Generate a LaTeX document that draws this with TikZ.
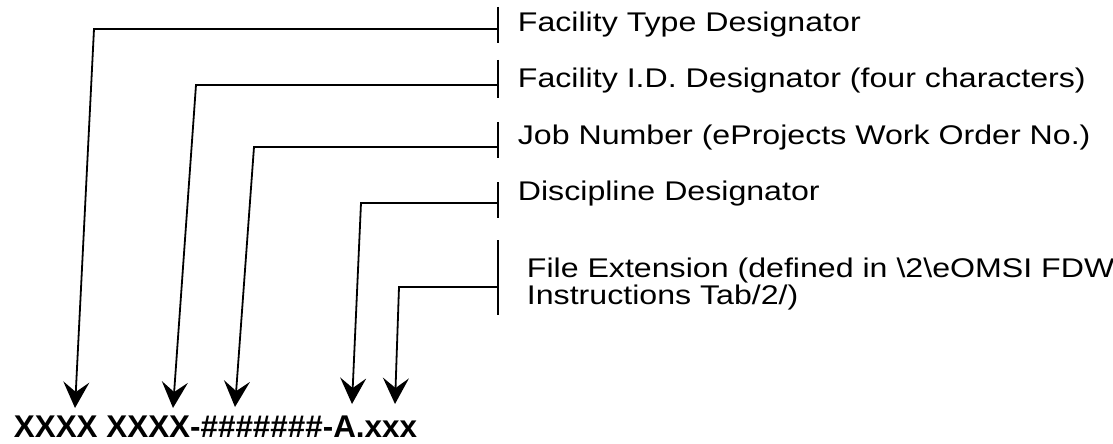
\documentclass[tikz,border=0pt]{standalone}
\usepackage{fontspec}
\setmainfont{Liberation Sans}
\newfontfamily\labelfont[FakeStretch=1.19]{Liberation Sans}
\usetikzlibrary{arrows.meta}

\begin{document}
\begin{tikzpicture}[x=0.5pt, y=-0.5pt, line width=0.9pt,
    lbl/.style={anchor=base west, inner sep=0pt, align=left,
        font=\labelfont\fontsize{13.5}{13.5}\selectfont},
    codetxt/.style={anchor=base west, inner sep=0pt,
        font=\bfseries\fontsize{15.7}{18}\selectfont},
    arr/.style={-{Stealth[length=13pt, width=13pt, inset=5pt]}}]
    \useasboundingbox (0,0) rectangle (1113,444);

    % Labels
    \node[lbl] (typelbl) at (517,32) {Facility Type Designator};
    \node[lbl] (idlbl) at (517,88) {Facility I.D. Designator (four characters)};
    \node[lbl] (joblbl) at (517,144) {Job Number (eProjects Work Order No.)};
    \node[lbl] (disclbl) at (517,200) {Discipline Designator};
    % two lines: base is the last line
    \node[lbl] (extlbl) at (526,304) {File Extension (defined in \textbackslash 2\textbackslash eOMSI FDW\\Instructions Tab/2/)};

    % Code string
    \node[codetxt] (codestr) at (13,437) {XXXX XXXX-\#\#\#\#\#\#\#-A.xxx};

    % Bars
    \coordinate (typebar) at (498,29);
    \coordinate (idbar) at (498,85);
    \coordinate (jobbar) at (498,147);
    \coordinate (discbar) at (498,203);
    \coordinate (extbar) at (498,287);
    \draw (498,7) -- (498,43);
    \draw (498,60) -- (498,98);
    \draw (498,122) -- (498,158);
    \draw (498,182) -- (498,218);
    \draw (498,240) -- (498,315);

    % Corners and tips
    \coordinate (typecorner) at (94,29);
    \coordinate (idcorner) at (196,85);
    \coordinate (jobcorner) at (254,147);
    \coordinate (disccorner) at (361,203);
    \coordinate (extcorner) at (399,287);
    \coordinate (typetip) at (75,408);
    \coordinate (idtip) at (173,408);
    \coordinate (jobtip) at (235,407);
    \coordinate (disctip) at (352,404);
    \coordinate (exttip) at (395,404);

    % Arrows
    \draw[arr] (typebar) -- (typecorner) -- (typetip);
    \draw[arr] (idbar) -- (idcorner) -- (idtip);
    \draw[arr] (jobbar) -- (jobcorner) -- (jobtip);
    \draw[arr] (discbar) -- (disccorner) -- (disctip);
    \draw[arr] (extbar) -- (extcorner) -- (exttip);
\end{tikzpicture}
\end{document}
